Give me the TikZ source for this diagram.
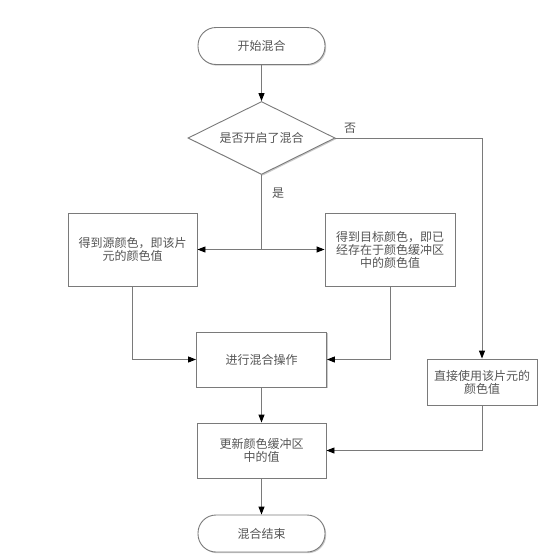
\documentclass[tikz,border=0pt]{standalone}
\usepackage{fontspec}
\newfontfamily\cjk{Noto Sans CJK SC}
\usetikzlibrary{shapes.geometric,arrows.meta,shadows}
\definecolor{txtgray}{HTML}{555555}
\definecolor{linegray}{HTML}{7A7A7A}
\tikzset{
  base/.style={draw=linegray, line width=0.9pt, fill=white, text=txtgray,
    font=\cjk\fontsize{12}{13}\selectfont, align=center, inner sep=0pt,
    drop shadow={shadow xshift=1.2pt, shadow yshift=-1.2pt, fill=black!35, opacity=0.6}},
  procbox/.style={base, rectangle},
  termbox/.style={base, rectangle, rounded corners=18pt, minimum width=127pt, minimum height=37pt},
  decbox/.style={base, diamond, minimum width=147pt, minimum height=73pt, aspect=2},
  conn/.style={draw=linegray, line width=0.9pt, -{Triangle[length=8pt,width=6pt,color=black]}},
  plainconn/.style={draw=linegray, line width=0.9pt},
  lbl/.style={text=txtgray, font=\cjk\fontsize{12}{13}\selectfont, inner sep=0pt}
}
\begin{document}
\begin{tikzpicture}[x=1pt,y=-1pt]
\useasboundingbox (0,0) rectangle (557,560);
\node[termbox] (start) at (261.5,46) {开始混合};
\node[decbox] (dec) at (261.5,138) {是否开启了混合};
\node[procbox, minimum width=129pt, minimum height=73pt] (src) at (132.5,249.5) {得到源颜色，即该片\\元的颜色值};
\node[procbox, minimum width=130pt, minimum height=73pt] (dst) at (390,249.5) {得到目标颜色，即已\\经存在于颜色缓冲区\\中的颜色值};
\node[procbox, minimum width=130pt, minimum height=55pt] (mix) at (261.5,359.5) {进行混合操作};
\node[procbox, minimum width=110pt, minimum height=46pt] (direct) at (482,382) {直接使用该片元的\\颜色值};
\node[procbox, minimum width=129pt, minimum height=55pt] (upd) at (261.5,450.5) {更新颜色缓冲区\\中的值};
\node[termbox] (end) at (261.5,533.5) {混合结束};
\coordinate (j) at (261.5,249.5);
\coordinate (k) at (482,138);
\node[lbl] (yes) at (278,193) {是};
\node[lbl] (no) at (350,128) {否};
\draw[conn] (start) -- (dec);
\draw[plainconn] (dec.south) -- (j);
\draw[conn] (j) -- (src.east);
\draw[conn] (j) -- (dst.west);
\draw[plainconn] (dec.east) -- (k);
\draw[conn] (k) -- (direct.north);
\draw[conn] (src.south) |- (mix.west);
\draw[conn] (dst.south) |- (mix.east);
\draw[conn] (mix) -- (upd);
\draw[conn] (direct.south) |- (upd.east);
\draw[conn] (upd) -- (end);
\end{tikzpicture}
\end{document}
